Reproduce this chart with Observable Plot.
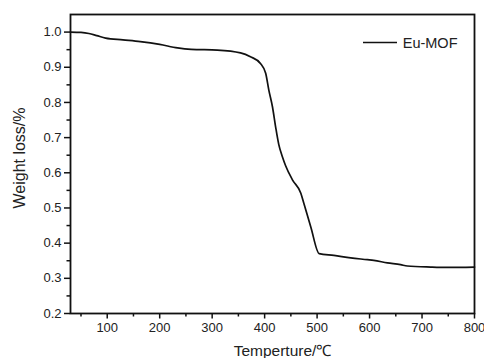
<!DOCTYPE html>
<html><head><meta charset="utf-8">
<script src="https://cdn.jsdelivr.net/npm/d3@7"></script>
<script src="https://cdn.jsdelivr.net/npm/@observablehq/plot@0.6"></script>
<style>body{margin:0;background:#fff} svg{display:block}</style>
</head><body><div id="chart"></div>
<script>
const temperature = [30, 50, 65, 80, 97, 130, 163, 200, 234, 260, 310, 354, 373, 392, 402, 408, 415, 421, 427, 434, 440, 453, 469, 475, 488, 504, 532, 564, 596, 608, 634, 659, 672, 717, 748, 800];
const weight = [1.0, 0.999, 0.996, 0.99, 0.983, 0.978, 0.973, 0.965, 0.955, 0.951, 0.949, 0.941, 0.930, 0.911, 0.883, 0.835, 0.787, 0.730, 0.680, 0.645, 0.620, 0.580, 0.542, 0.512, 0.446, 0.370, 0.365, 0.358, 0.353, 0.351, 0.344, 0.339, 0.335, 0.332, 0.331, 0.332];
const xMajorTicks = [100, 200, 300, 400, 500, 600, 700, 800];
const xMinorTicks = [50, 150, 250, 350, 450, 550, 650, 750];
const yMajorTicks = [0.2, 0.3, 0.4, 0.5, 0.6, 0.7, 0.8, 0.9, 1.0];
const yMinorTicks = [0.25, 0.35, 0.45, 0.55, 0.65, 0.75, 0.85, 0.95];
const seriesName = "Eu-MOF";
const xLabel = "Temperture/℃";
const yLabel = "Weight loss/%";

const data = temperature.map((t, i) => ({t, w: weight[i]}));
const ink = "#111";

const plot = Plot.plot({
  width: 484, height: 358,
  marginLeft: 70, marginRight: 10, marginTop: 14, marginBottom: 45,
  style: {fontFamily: "'Liberation Sans', Arial, sans-serif", fontSize: "13px", color: "#222", background: "#fff"},
  x: {domain: [30, 800]},
  y: {domain: [0.2, 1.05]},
  marks: [
    Plot.axisX(xMinorTicks, {tickSize: 3.5, fill: "none", stroke: ink, strokeWidth: 1.5, label: null}),
    Plot.axisX(xMajorTicks, {tickSize: 5.5, tickPadding: 4, stroke: ink, strokeWidth: 1.5, label: null, tickFormat: d => String(d)}),
    Plot.axisY(yMinorTicks, {tickSize: 3.5, fill: "none", stroke: ink, strokeWidth: 1.5, label: null}),
    Plot.axisY(yMajorTicks, {tickSize: 6, tickPadding: 3, stroke: ink, strokeWidth: 1.5, label: null, tickFormat: d3.format(".1f")}),
    Plot.frame({stroke: ink, strokeWidth: 1.8}),
    Plot.line(data, {x: "t", y: "w", stroke: ink, strokeWidth: 1.7, curve: "monotone-x"}),
    Plot.text([xLabel], {text: d => d, frameAnchor: "bottom", dx: 10, dy: 42, lineAnchor: "bottom", fontSize: 15.5, fill: "#222"}),
    Plot.text([yLabel], {text: d => d, frameAnchor: "left", textAnchor: "middle", dx: -51, dy: -6, rotate: -90, fontSize: 16, fill: "#222"}),
    Plot.text([seriesName], {text: d => d, frameAnchor: "top-right", dx: -17, dy: 33, textAnchor: "end", lineAnchor: "bottom", fontSize: 14.5, fill: "#222"})
  ]
});

const svgSel = d3.select(plot);
const xr = plot.scale("x").range;
const yr = plot.scale("y").range;
const frameRight = Math.max(...xr), frameTop = Math.min(...yr);
svgSel.append("line")
  .attr("x1", frameRight - 111).attr("x2", frameRight - 77)
  .attr("y1", frameTop + 28.5).attr("y2", frameTop + 28.5)
  .attr("stroke", ink).attr("stroke-width", 1.6);

document.getElementById("chart").appendChild(plot);
</script>
</body></html>
